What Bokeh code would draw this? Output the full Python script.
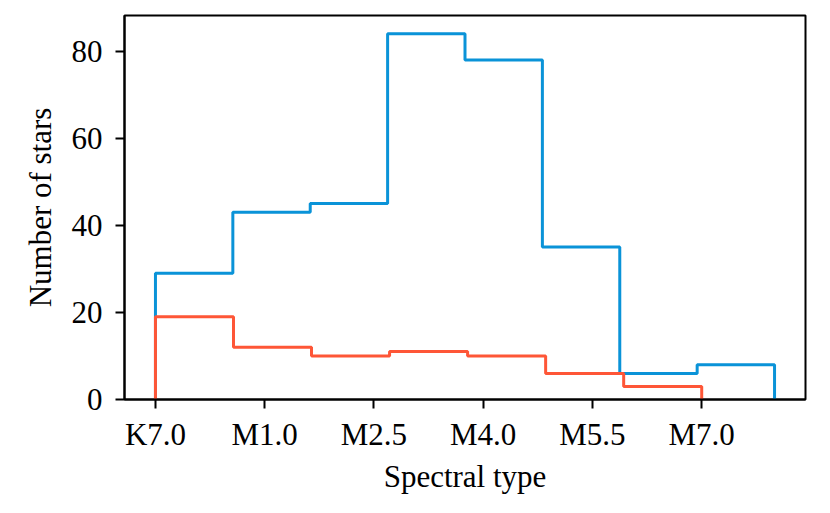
import numpy as np
from bokeh.plotting import figure
from bokeh.models import FixedTicker, Range1d
from bokeh.embed import file_html
from bokeh.resources import INLINE

# Data
blue_counts = [29, 43, 45, 84, 78, 35, 6, 8]
blue_range = (0.0, 8.5)
red_counts = [19, 12, 10, 11, 10, 6, 3]
red_range = (0.0, 7.5)

tick_positions = [0, 1.5, 3, 4.5, 6, 7.5]
tick_labels = ["K7.0", "M1.0", "M2.5", "M4.0", "M5.5", "M7.0"]

BLUE = "#0a93d8"
RED = "#fe5637"
FONT = "Liberation Serif"


def step_path(counts, rng):
    edges = np.linspace(rng[0], rng[1], len(counts) + 1)
    xs = [edges[0]]
    ys = [0]
    for i, c in enumerate(counts):
        xs += [edges[i], edges[i + 1]]
        ys += [c, c]
    xs.append(edges[-1])
    ys.append(0)
    return xs, ys


p = figure(width=822, height=504, output_backend="svg", toolbar_location=None,
           x_range=Range1d(-0.425, 8.925), y_range=Range1d(0, 88.2),
           min_border_left=124, min_border_right=17, min_border_top=15,
           min_border_bottom=105)

bx, by = step_path(blue_counts, blue_range)
rx, ry = step_path(red_counts, red_range)
p.line(bx, by, line_color=BLUE, line_width=3)
p.line(rx, ry, line_color=RED, line_width=3)

p.xgrid.visible = False
p.ygrid.visible = False
p.outline_line_color = "black"
p.outline_line_width = 2
p.outline_line_alpha = 1
p.background_fill_color = "white"
p.border_fill_color = "white"

p.xaxis.ticker = FixedTicker(ticks=tick_positions)
p.xaxis.major_label_overrides = {t: l for t, l in zip(tick_positions, tick_labels)}
p.xaxis.major_label_overrides.update({int(t): l for t, l in zip(tick_positions, tick_labels) if float(t).is_integer()})
p.yaxis.ticker = FixedTicker(ticks=[0, 20, 40, 60, 80])

for ax in (p.xaxis[0], p.yaxis[0]):
    ax.axis_line_color = "black"
    ax.axis_line_width = 2
    ax.major_tick_line_color = "black"
    ax.major_tick_line_width = 2
    ax.major_tick_out = 9
    ax.major_tick_in = 0
    ax.minor_tick_line_color = None
    ax.major_label_text_font = FONT
    ax.major_label_text_font_size = "31px"
    ax.major_label_text_color = "black"
    ax.axis_label_text_font = FONT
    ax.axis_label_text_font_size = "31px"
    ax.axis_label_text_font_style = "normal"
    ax.axis_label_text_color = "black"

p.xaxis.axis_label = "Spectral type"
p.yaxis.axis_label = "Number of stars"
p.xaxis.major_label_standoff = 8
p.yaxis.major_label_standoff = 13
p.xaxis.axis_label_standoff = 4
p.yaxis.axis_label_standoff = 11

open("out.html", "w").write(file_html(p, INLINE))
